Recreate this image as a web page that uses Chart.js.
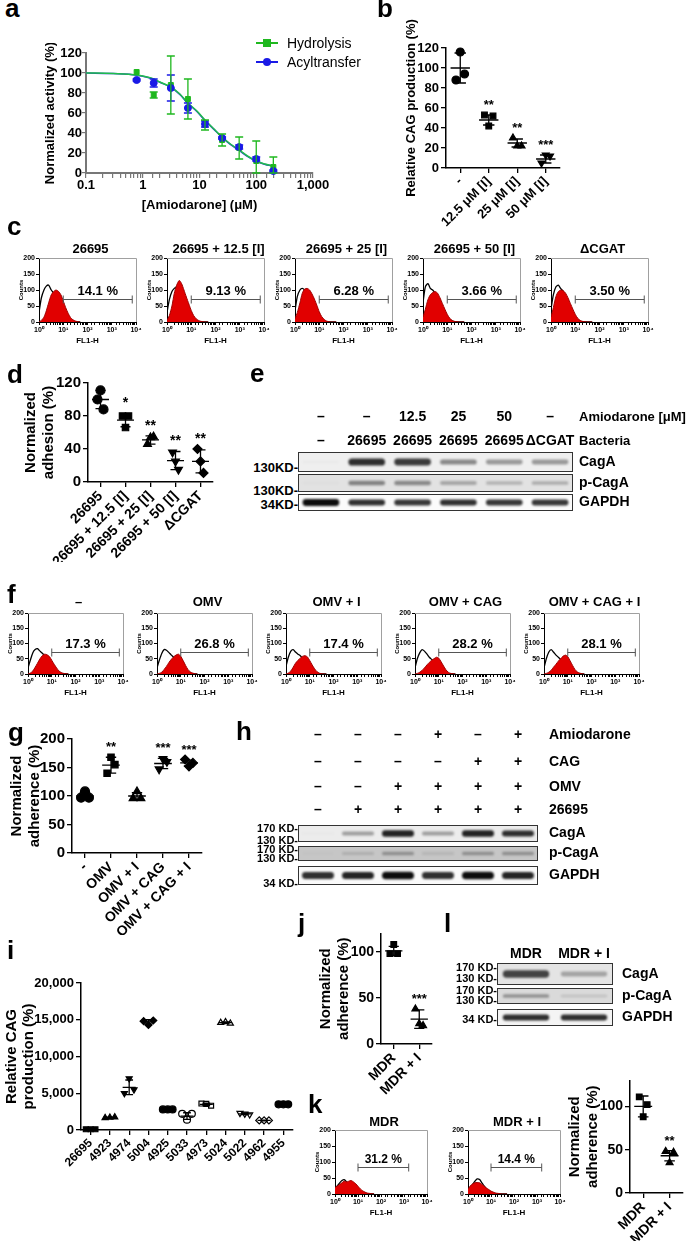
<!DOCTYPE html>
<html>
<head>
<meta charset="utf-8">
<title>Amiodarone / CAG figure</title>
<script src="https://cdn.jsdelivr.net/npm/chart.js@4.4.1/dist/chart.umd.min.js"></script>
<style>
  body { margin: 0; background: #fff; }
  #fig { position: relative; width: 688px; height: 1241px; overflow: hidden; background: #fff;
         font-family: "Liberation Sans", Arial, sans-serif; font-weight: bold; color: #000; }
  #fig canvas { position: absolute; }
  .lab { position: absolute; white-space: nowrap; line-height: 1; }
</style>
</head>
<body>
<div id="fig"></div>
<script>
// ---------------- data ----------------
// a: normalized activity vs amiodarone dose
const aDoses = [0.78, 1.56, 3.125, 6.25, 12.5, 25, 50, 100, 200];
const aHydro = [101, 78, 88, 74, 48, 33, 25, 12, 6];
const aHydroErr = [0, 3, 29, 20, 5, 6, 11, 20, 10];
const aAcyl = [93, 90, 85, 65, 49, 35, 26, 14, 2];
const aAcylErr = [1, 4, 13, 5, 3, 1, 2, 2, 1];
const aFitDoses = [0.1, 0.3, 0.78, 1.56, 2, 3.125, 4.5, 6.25, 9, 12.5, 18, 25, 35, 50, 70, 100, 140, 200];
const aFitHydro = [100, 99.5, 98, 94, 91, 86, 79, 70, 62, 53, 44, 36, 29, 23, 17, 12, 9, 7];
const aFitAcyl = [100, 99.4, 97.8, 93.8, 90.8, 85.6, 78.6, 69.6, 61.5, 52.6, 43.6, 35.6, 28.6, 22.6, 16.6, 11.8, 8.8, 6.8];
const aYTicks = [0, 20, 40, 60, 80, 100, 120];

// b: relative CAG production
const bCats = ['-', '12.5 μM [I]', '25 μM [I]', '50 μM [I]'];
const bPoints = [[88, 94, 116], [53, 52, 42], [30, 22, 22], [5, 12, 13]];
const bMean = [100, 48, 25, 9];
const bSd = [15, 5, 4, 4];
const bStars = ['', '**', '**', '***'];
const bTicks = [0, 20, 40, 60, 80, 100, 120];

// flow cytometry histograms (FL1-H channel grid shared by all panels)
const flowX = [1, 1.25, 1.6, 2, 2.5, 3.2, 4, 5, 6.3, 8, 10, 12.6, 16, 20, 25, 32, 40, 50];
const flowTicks = [0, 50, 100, 150, 200];

// c
const cTitles = ['26695', '26695 + 12.5 [I]', '26695 + 25 [I]', '26695 + 50 [I]', 'ΔCGAT'];
const cPct = ['14.1 %', '9.13 %', '6.28 %', '3.66 %', '3.50 %'];
const cControl = [
  [30, 75, 100, 112, 115, 100, 90, 72, 55, 38, 24, 14, 7, 3, 1, 0, 0, 0],
  [30, 70, 95, 105, 110, 100, 85, 65, 47, 30, 18, 9, 4, 1, 0, 0, 0, 0],
  [35, 80, 100, 105, 100, 90, 75, 58, 42, 27, 15, 7, 3, 1, 0, 0, 0, 0],
  [60, 110, 120, 105, 100, 90, 80, 65, 47, 30, 17, 8, 3, 1, 0, 0, 0, 0],
  [40, 85, 110, 115, 105, 95, 80, 62, 43, 27, 15, 7, 2, 1, 0, 0, 0, 0]
];
const cStained = [
  [0, 5, 15, 35, 60, 85, 95, 100, 96, 85, 66, 45, 27, 14, 7, 3, 1, 0],
  [5, 20, 50, 90, 115, 130, 120, 100, 78, 56, 36, 20, 10, 5, 2, 1, 0, 0],
  [10, 30, 60, 90, 103, 105, 100, 88, 72, 52, 32, 17, 8, 3, 1, 0, 0, 0],
  [15, 40, 70, 85, 92, 95, 90, 76, 58, 40, 24, 12, 5, 2, 1, 0, 0, 0],
  [15, 45, 80, 95, 100, 98, 90, 76, 58, 40, 24, 12, 5, 2, 1, 0, 0, 0]
];
const cGate = [10, 7000, 72];

// d: normalized adhesion
const dCats = ['26695', '26695 + 12.5 [I]', '26695 + 25 [I]', '26695 + 50 [I]', 'ΔCGAT'];
const dPoints = [[100, 88, 111], [80, 80, 66], [46, 55, 54], [36, 15, 25], [40, 11, 25]];
const dMean = [100, 75, 51, 26, 25];
const dSd = [11, 8, 5, 11, 14];
const dStars = ['', '*', '**', '**', '**'];
const dTicks = [0, 20, 40, 60, 80, 100, 120];

// e: western blot
const eAmio = ['–', '–', '12.5', '25', '50', '–'];
const eBact = ['–', '26695', '26695', '26695', '26695', 'ΔCGAT'];
const eCagA = [0.02, 0.85, 0.8, 0.45, 0.38, 0.38];
const ePCagA = [0.02, 0.45, 0.42, 0.28, 0.22, 0.25];
const eGapdh = [1.0, 0.85, 0.82, 0.85, 0.82, 0.82];

// f
const fTitles = ['–', 'OMV', 'OMV + I', 'OMV + CAG', 'OMV + CAG + I'];
const fPct = ['17.3 %', '26.8 %', '17.4 %', '28.2 %', '28.1 %'];
const fControl = [
  [20, 45, 70, 80, 83, 75, 68, 60, 48, 36, 25, 15, 8, 4, 1, 0, 0, 0],
  [20, 45, 68, 80, 78, 70, 62, 55, 46, 37, 27, 17, 9, 4, 1, 0, 0, 0],
  [25, 55, 75, 80, 72, 65, 60, 52, 43, 33, 22, 12, 6, 2, 1, 0, 0, 0],
  [20, 50, 70, 80, 75, 65, 55, 48, 41, 33, 25, 16, 8, 3, 1, 0, 0, 0],
  [20, 50, 72, 80, 72, 62, 55, 48, 41, 33, 25, 16, 8, 3, 1, 0, 0, 0]
];
const fStained = [
  [0, 3, 10, 22, 35, 50, 60, 65, 63, 57, 45, 32, 20, 10, 5, 2, 1, 0],
  [0, 2, 6, 15, 25, 38, 48, 56, 62, 65, 58, 44, 28, 15, 7, 3, 1, 0],
  [0, 3, 10, 22, 35, 45, 52, 58, 60, 56, 44, 30, 17, 8, 3, 1, 0, 0],
  [0, 2, 6, 12, 20, 30, 38, 45, 50, 55, 52, 40, 26, 14, 6, 2, 1, 0],
  [0, 2, 6, 12, 22, 32, 42, 50, 58, 62, 57, 43, 28, 15, 7, 3, 1, 0]
];
const fGate = [10, 7000, 73];

// g: normalized adherence
const gCats = ['-', 'OMV', 'OMV + I', 'OMV + CAG', 'OMV + CAG + I'];
const gPoints = [[97, 97, 108], [140, 155, 168], [96, 96, 108], [147, 160, 165], [164, 158, 152]];
const gMean = [100, 154, 100, 157, 158];
const gSd = [6, 14, 6, 9, 5];
const gStars = ['', '**', '', '***', '***'];
const gTicks = [0, 50, 100, 150, 200];

// h: western blot
const hAmio = ['–', '–', '–', '+', '–', '+'];
const hCag = ['–', '–', '–', '–', '+', '+'];
const hOmv = ['–', '–', '+', '+', '+', '+'];
const h26695 = ['–', '+', '+', '+', '+', '+'];
const hCagA = [0.02, 0.35, 0.9, 0.35, 0.9, 0.85];
const hPCagA = [0.02, 0.15, 0.3, 0.1, 0.3, 0.3];
const hGapdh = [0.85, 0.9, 1.0, 0.85, 1.0, 0.9];

// i: relative CAG production across strains
const iCats = ['26695', '4923', '4974', '5004', '4925', '5033', '4973', '5024', '5022', '4962', '4955'];
const iPoints = [[100, 100, 100], [1650, 1750, 1700], [5000, 5500, 7000], [14800, 14900, 14300],
  [2800, 2800, 2800], [2200, 2200, 1400], [3600, 3300, 3550], [14600, 14500, 14700],
  [2300, 2100, 2200], [1300, 1300, 1300], [3500, 3500, 3500]];
const iMean = [100, 1700, 5800, 14700, 2800, 1900, 3500, 14600, 2200, 1300, 3500];
const iSd = [30, 60, 1000, 300, 60, 450, 170, 100, 120, 40, 40];
const iTicks = [0, 5000, 10000, 15000, 20000];

// j
const jCats = ['MDR', 'MDR + I'];
const jPoints = [[98, 98, 108], [38, 20, 22]];
const jMean = [101, 27];
const jSd = [5, 10];
const jStars = ['', '***'];
const jTicks = [0, 50, 100];

// k
const kTitles = ['MDR', 'MDR + I'];
const kPct = ['31.2 %', '14.4 %'];
const kControl = [
  [15, 25, 35, 42, 45, 38, 30, 28, 22, 16, 10, 6, 3, 1, 0, 0, 0, 0],
  [10, 20, 30, 40, 47, 45, 35, 25, 16, 10, 5, 3, 1, 0, 0, 0, 0, 0]
];
const kStained = [
  [20, 25, 30, 35, 40, 38, 40, 42, 38, 32, 24, 16, 10, 6, 3, 2, 1, 0],
  [15, 25, 32, 35, 36, 35, 30, 25, 19, 14, 9, 6, 3, 2, 1, 0, 0, 0]
];
const kGate = [10, 1600, 85];
const kCats = ['MDR', 'MDR + I'];
const kPoints = [[111, 102, 88], [48, 47, 35]];
const kMean = [100, 43];
const kSd = [12, 6];
const kStars = ['', '**'];
const kTicks = [0, 50, 100];

// l: western blot
const lLanes = ['MDR', 'MDR + I'];
const lCagA = [0.75, 0.3];
const lPCagA = [0.35, 0.12];
const lGapdh = [0.85, 0.85];

// ---------------- helpers ----------------
const FONT = '"Liberation Sans", Arial, sans-serif';
Chart.defaults.font.family = FONT;
Chart.defaults.font.weight = 'bold';
Chart.defaults.color = '#000';
Chart.defaults.animation = false;
Chart.defaults.responsive = false;
Chart.defaults.devicePixelRatio = 1;
Chart.defaults.events = [];
Chart.defaults.plugins.legend.display = false;
Chart.defaults.plugins.tooltip.enabled = false;

const fig = document.getElementById('fig');

// box = plot area [x0, y0, x1, y1] in page px; m = [left, top, right, bottom] room around it
function canvasAt(box, m) {
  const c = document.createElement('canvas');
  const w = box[2] - box[0] + m[0] + m[2];
  const h = box[3] - box[1] + m[1] + m[3];
  c.width = w; c.height = h;
  c.style.left = (box[0] - m[0]) + 'px';
  c.style.top = (box[1] - m[1]) + 'px';
  c.style.width = w + 'px';
  c.style.height = h + 'px';
  fig.appendChild(c);
  return c;
}

// y is the vertical centre of the text
function label(str, x, y, size, extra) {
  const d = document.createElement('div');
  d.className = 'lab';
  d.textContent = str;
  d.style.fontSize = size + 'px';
  d.style.top = (y - size * 0.5) + 'px';
  if (extra && extra.right !== undefined) d.style.right = (688 - extra.right) + 'px';
  else d.style.left = x + 'px';
  fig.appendChild(d);
}

function letter(ch, x, baseline) {
  label(ch, x, baseline - 22 + 13, 26);
}

const isPow10 = v => { const l = Math.log10(v); return Math.abs(l - Math.round(l)) < 1e-6; };
const SUP = ['⁰', '¹', '²', '³', '⁴'];

// mean line, SD whiskers and significance stars
function statsPlugin(o) {
  return {
    id: 'stats',
    afterDatasetsDraw(chart) {
      const { ctx, scales: { x, y } } = chart;
      const unit = x.getPixelForValue(1) - x.getPixelForValue(0);
      ctx.save();
      ctx.strokeStyle = '#000';
      ctx.lineWidth = 1.3;
      o.mean.forEach((mv, i) => {
        const cx = x.getPixelForValue(i);
        const ym = y.getPixelForValue(mv);
        const yt = y.getPixelForValue(mv + o.sd[i]);
        const yb = y.getPixelForValue(Math.max(0, mv - o.sd[i]));
        ctx.beginPath();
        ctx.moveTo(cx - unit * 0.34, ym); ctx.lineTo(cx + unit * 0.34, ym);
        ctx.moveTo(cx, yt); ctx.lineTo(cx, yb);
        ctx.moveTo(cx - unit * 0.2, yt); ctx.lineTo(cx + unit * 0.2, yt);
        ctx.moveTo(cx - unit * 0.2, yb); ctx.lineTo(cx + unit * 0.2, yb);
        ctx.stroke();
        if (o.stars && o.stars[i]) {
          const top = Math.max(mv + o.sd[i], ...o.points[i]);
          ctx.fillStyle = '#000';
          ctx.font = 'bold ' + (o.starFont || 13) + 'px ' + FONT;
          ctx.textAlign = 'center';
          ctx.textBaseline = 'bottom';
          ctx.fillText(o.stars[i], cx, y.getPixelForValue(top) - 3);
        }
      });
      ctx.restore();
    }
  };
}

// scatter dot plot with categories on a linear x scale
function dotPlot(box, m, o) {
  const n = o.cats.length;
  const jitter = o.jitter || [-0.15, 0.15, 0];
  return new Chart(canvasAt(box, m), {
    type: 'scatter',
    data: {
      datasets: o.points.map((vals, i) => ({
        data: vals.map((v, k) => ({ x: i + jitter[k], y: v })),
        pointStyle: o.styles[i][0],
        rotation: o.styles[i][1],
        pointRadius: o.radius,
        backgroundColor: o.styles[i][2] ? '#000' : '#fff',
        borderColor: '#000',
        borderWidth: 1.2,
        clip: false
      }))
    },
    options: {
      layout: { padding: { left: 0, top: m[1], right: m[2], bottom: 0 } },
      scales: {
        x: {
          type: 'linear', min: -0.5, max: n - 0.5,
          afterBuildTicks: s => { s.ticks = o.cats.map((c, i) => ({ value: i })); },
          afterFit: s => { s.height = m[3]; },
          ticks: { autoSkip: false, minRotation: 45, maxRotation: 45, padding: 1,
                   callback: v => o.cats[v], font: { size: o.catFont } },
          grid: { drawOnChartArea: false, tickLength: 5, color: '#000', lineWidth: 1.3 },
          border: { color: '#000', width: 1.5 }
        },
        y: {
          min: 0, max: o.yMax,
          afterBuildTicks: s => { s.ticks = o.yTicks.map(v => ({ value: v })); },
          afterFit: s => { s.width = m[0]; },
          ticks: { padding: 2, font: { size: o.tickFont },
                   callback: v => o.comma ? v.toLocaleString('en-US') : String(v) },
          grid: { drawOnChartArea: false, tickLength: 5, color: '#000', lineWidth: 1.3 },
          border: { color: '#000', width: 1.5 },
          title: { display: true, text: o.title, font: { size: o.titleFont, lineHeight: o.titleLH || 1.2 },
                   padding: { top: 0, bottom: 0 } }
        }
      }
    },
    plugins: [statsPlugin(o)]
  });
}

// frame, gate and title of a flow histogram
function flowDecor(o) {
  return {
    id: 'flowDecor',
    afterDraw(chart) {
      const { ctx, chartArea: a, scales: { x, y } } = chart;
      ctx.save();
      ctx.strokeStyle = '#a0a0a0';
      ctx.lineWidth = 1;
      ctx.beginPath();
      ctx.moveTo(a.left, a.top + 0.5); ctx.lineTo(a.right + 0.5, a.top + 0.5); ctx.lineTo(a.right + 0.5, a.bottom);
      ctx.stroke();
      const gx0 = x.getPixelForValue(o.gate[0]);
      const gx1 = x.getPixelForValue(o.gate[1]);
      const gy = Math.round(y.getPixelForValue(o.gate[2])) + 0.5;
      ctx.strokeStyle = '#555';
      ctx.beginPath();
      ctx.moveTo(gx0, gy); ctx.lineTo(gx1, gy);
      ctx.moveTo(gx0, gy - 4); ctx.lineTo(gx0, gy + 4);
      ctx.moveTo(gx1, gy - 4); ctx.lineTo(gx1, gy + 4);
      ctx.stroke();
      ctx.fillStyle = '#000';
      ctx.textAlign = 'center';
      ctx.font = 'bold ' + o.pctFont + 'px ' + FONT;
      ctx.textBaseline = 'bottom';
      ctx.fillText(o.pct, (gx0 + gx1) / 2, gy - 2);
      ctx.font = 'bold 13px ' + FONT;
      ctx.textBaseline = 'middle';
      ctx.fillText(o.title, (a.left + a.right) / 2 + 3, a.top - o.titleGap);
      ctx.restore();
    }
  };
}

function flowPlot(box, o) {
  const m = [25, 22, 8, 24];
  return new Chart(canvasAt(box, m), {
    type: 'line',
    data: {
      datasets: [
        { data: flowX.map((x, k) => ({ x, y: o.stained[k] })), fill: 'origin',
          backgroundColor: '#e10000', borderColor: '#a00000', borderWidth: 1, pointRadius: 0, tension: 0.25 },
        { data: flowX.map((x, k) => ({ x, y: o.control[k] })), fill: false,
          borderColor: '#000', borderWidth: 1.3, pointRadius: 0, tension: 0.25 }
      ]
    },
    options: {
      layout: { padding: { left: 0, top: m[1], right: m[2], bottom: 0 } },
      scales: {
        x: {
          type: 'logarithmic', min: 1, max: 10000,
          afterFit: s => { s.height = m[3]; },
          ticks: { autoSkip: false, maxRotation: 0, padding: 1, font: { size: 7 },
                   callback: v => isPow10(v) ? '10' + SUP[Math.round(Math.log10(v))] : '' },
          grid: { drawOnChartArea: false, tickLength: 3, color: '#000' },
          border: { color: '#000', width: 1 },
          title: { display: true, text: 'FL1-H', font: { size: 8 }, padding: 0 }
        },
        y: {
          min: 0, max: 200,
          afterBuildTicks: s => { s.ticks = flowTicks.map(v => ({ value: v })); },
          afterFit: s => { s.width = m[0]; },
          ticks: { padding: 1, font: { size: 7 } },
          grid: { drawOnChartArea: false, tickLength: 3, color: '#000' },
          border: { color: '#000', width: 1 },
          title: { display: true, text: 'Counts', font: { size: 6 }, padding: { top: 4, bottom: 0 } }
        }
      }
    },
    plugins: [flowDecor(o)]
  });
}

// one strip of a western blot; band thickness and darkness follow the intensity
function blotDecor(o) {
  return {
    id: 'blotDecor',
    beforeDatasetsDraw(chart) {
      const { ctx, chartArea: a } = chart;
      ctx.save();
      ctx.fillStyle = o.bg;
      ctx.fillRect(a.left, a.top, a.right - a.left, a.bottom - a.top);
      ctx.restore();
      ctx.save();
      ctx.filter = 'blur(1px)';
    },
    afterDatasetsDraw(chart) {
      const { ctx, chartArea: a, scales: { x } } = chart;
      ctx.restore();
      ctx.save();
      ctx.strokeStyle = '#333';
      ctx.lineWidth = 1;
      ctx.strokeRect(a.left + 0.5, a.top + 0.5, a.right - a.left - 1, a.bottom - a.top - 1);
      ctx.fillStyle = '#000';
      ctx.font = 'bold 14px ' + FONT;
      ctx.textBaseline = 'middle';
      ctx.textAlign = 'left';
      ctx.fillText(o.name, a.right + o.gap, (a.top + a.bottom) / 2);
      if (o.header) {
        o.header.rows.forEach((row, r) => {
          const yy = a.top + o.header.dy[r];
          ctx.font = 'bold 14px ' + FONT;
          ctx.textAlign = 'center';
          row.forEach((t, i) => ctx.fillText(t, x.getPixelForValue(i), yy));
          ctx.textAlign = 'left';
          ctx.font = 'bold ' + (o.header.labelFont || 14) + 'px ' + FONT;
          ctx.fillText(o.header.labels[r], a.right + o.gap, yy);
        });
      }
      ctx.restore();
    }
  };
}

function blotStrip(box, rightW, o) {
  const headTop = o.header ? o.header.top : 0;
  const m = [0, headTop, rightW, 0];
  return new Chart(canvasAt(box, m), {
    type: 'bar',
    data: {
      labels: o.values.map((v, i) => 'lane ' + (i + 1)),
      datasets: [{
        data: o.values.map(v => [0.5 - 0.07 - 0.13 * v, 0.5 + 0.07 + 0.13 * v]),
        backgroundColor: o.values.map(v => 'rgba(12,12,12,' + v + ')'),
        barPercentage: 0.8, categoryPercentage: 1, borderRadius: 4, borderSkipped: false
      }]
    },
    options: {
      layout: { padding: { left: 0, top: headTop, right: rightW, bottom: 0 } },
      scales: { x: { display: false }, y: { display: false, min: 0, max: 1 } }
    },
    plugins: [blotDecor(o)]
  });
}

// ---------------- panel a ----------------
const aBox = [86, 53, 313, 173], aM = [47, 10, 22, 42];
const aErrPlugin = {
  id: 'errBars',
  afterDatasetsDraw(chart) {
    const { ctx, scales: { y } } = chart;
    ctx.save();
    chart.data.datasets.forEach((ds, di) => {
      if (!ds.err) return;
      const meta = chart.getDatasetMeta(di);
      ctx.strokeStyle = ds.borderColor;
      ctx.lineWidth = 1.3;
      meta.data.forEach((pt, k) => {
        const v = ds.data[k].y, e = ds.err[k];
        if (!e) return;
        const yt = y.getPixelForValue(v + e), yb = y.getPixelForValue(Math.max(0, v - e));
        ctx.beginPath();
        ctx.moveTo(pt.x, yt); ctx.lineTo(pt.x, yb);
        ctx.moveTo(pt.x - 4, yt); ctx.lineTo(pt.x + 4, yt);
        ctx.moveTo(pt.x - 4, yb); ctx.lineTo(pt.x + 4, yb);
        ctx.stroke();
      });
    });
    ctx.restore();
  }
};
// dataset 0 is drawn on top
new Chart(canvasAt(aBox, aM), {
  type: 'scatter',
  data: {
    datasets: [
      { data: aDoses.map((x, k) => ({ x, y: aAcyl[k] })), pointStyle: 'circle', pointRadius: 3.5,
        backgroundColor: '#1a1ae6', borderColor: '#1a1ae6', err: aAcylErr, clip: false },
      { data: aDoses.map((x, k) => ({ x, y: aHydro[k] })), pointStyle: 'rect', pointRadius: 3.5,
        backgroundColor: '#1fb81f', borderColor: '#1fb81f', err: aHydroErr, clip: false },
      { data: aFitDoses.map((x, k) => ({ x, y: aFitHydro[k] })), showLine: true, borderColor: '#1fbf4a',
        borderWidth: 1.5, pointRadius: 0, cubicInterpolationMode: 'monotone' },
      { data: aFitDoses.map((x, k) => ({ x, y: aFitAcyl[k] })), showLine: true, borderColor: '#2a2ae0',
        borderWidth: 1.5, pointRadius: 0, cubicInterpolationMode: 'monotone' }
    ]
  },
  options: {
    layout: { padding: { left: 0, top: aM[1], right: aM[2], bottom: 0 } },
    scales: {
      x: {
        type: 'logarithmic', min: 0.1, max: 1000,
        afterFit: s => { s.height = aM[3]; },
        ticks: { autoSkip: false, maxRotation: 0, padding: 0, font: { size: 13 },
                 callback: v => !isPow10(v) ? '' : (v < 1 ? '0.1' : Math.round(v).toLocaleString('en-US')) },
        grid: { drawOnChartArea: false, tickLength: 5, color: '#777', lineWidth: 1.2 },
        border: { color: '#777', width: 2 },
        title: { display: true, text: '[Amiodarone] (μM)', font: { size: 13 }, padding: { top: 0, bottom: 2 } }
      },
      y: {
        min: 0, max: 120,
        afterBuildTicks: s => { s.ticks = aYTicks.map(v => ({ value: v })); },
        afterFit: s => { s.width = aM[0]; },
        ticks: { padding: 0, font: { size: 13 } },
        grid: { drawOnChartArea: false, tickLength: 4, color: '#777', lineWidth: 1.2 },
        border: { color: '#777', width: 2 },
        title: { display: true, text: 'Normalized activity (%)', font: { size: 13 }, padding: { top: 4, bottom: 0 } }
      }
    }
  },
  plugins: [aErrPlugin]
});

function legendRow(y, color, round, txt) {
  const row = document.createElement('div');
  row.className = 'lab';
  row.style.left = '256px';
  row.style.top = (y - 8) + 'px';
  row.style.fontSize = '14px';
  row.style.fontWeight = 'normal';
  row.style.lineHeight = '16px';
  row.innerHTML = '<span style="display:inline-block;position:relative;width:22px;height:16px;vertical-align:top;margin-right:9px">' +
    '<span style="position:absolute;left:0;right:0;top:7px;height:2px;background:' + color + '"></span>' +
    '<span style="position:absolute;left:7px;top:4px;width:8px;height:8px;background:' + color +
    ';border-radius:' + (round ? '50%' : '0') + '"></span></span>' + txt;
  fig.appendChild(row);
}
legendRow(43, '#1fb81f', false, 'Hydrolysis');
legendRow(62, '#1a1ae6', true, 'Acyltransfer');

// ---------------- panel b ----------------
dotPlot([446, 48, 560, 168], [42, 36, 10, 62], {
  cats: bCats, points: bPoints, mean: bMean, sd: bSd, stars: bStars, yMax: 120, yTicks: bTicks,
  styles: [['circle', 0, true], ['rect', 0, true], ['triangle', 0, true], ['triangle', 180, true]],
  radius: 4, tickFont: 13, catFont: 13, title: 'Relative CAG production (%)', titleFont: 13
});

// ---------------- panel c ----------------
cTitles.forEach((t, i) => {
  flowPlot([39 + 128 * i, 258, 136 + 128 * i, 322], {
    title: t, pct: cPct[i], control: cControl[i], stained: cStained[i], gate: cGate,
    pctFont: 13, titleGap: 9
  });
});

// ---------------- panel d ----------------
dotPlot([88, 382, 213, 482], [66, 10, 10, 80], {
  cats: dCats, points: dPoints, mean: dMean, sd: dSd, stars: dStars, yMax: 120, yTicks: dTicks,
  styles: [['circle', 0, true], ['rect', 0, true], ['triangle', 0, true], ['triangle', 180, true], ['rectRot', 0, true]],
  radius: 4.5, tickFont: 15, catFont: 14, title: ['Normalized', 'adhesion (%)'], titleFont: 15, starFont: 14,
  jitter: [-0.12, 0.12, 0]
});

// ---------------- panel e ----------------
blotStrip([298, 452, 573, 472], 115, { values: eCagA, bg: '#efefef', name: 'CagA', gap: 6,
  header: { rows: [eAmio, eBact], labels: ['Amiodarone [μM]', 'Bacteria'], dy: [-35, -11], top: 45, labelFont: 13 } });
blotStrip([298, 474, 573, 492], 115, { values: ePCagA, bg: '#e2e2e2', name: 'p-CagA', gap: 6 });
blotStrip([298, 494, 573, 511], 115, { values: eGapdh, bg: '#fbfbfb', name: 'GAPDH', gap: 6 });
label('130KD-', 0, 467, 13, { right: 298 });
label('130KD-', 0, 490, 13, { right: 298 });
label('34KD-', 0, 504, 13, { right: 298 });

// ---------------- panel f ----------------
fTitles.forEach((t, i) => {
  flowPlot([28 + 129 * i, 613, 123 + 129 * i, 674], {
    title: t, pct: fPct[i], control: fControl[i], stained: fStained[i], gate: fGate,
    pctFont: 13, titleGap: 11
  });
});

// ---------------- panel g ----------------
dotPlot([72, 738, 202, 853], [64, 10, 10, 82], {
  cats: gCats, points: gPoints, mean: gMean, sd: gSd, stars: gStars, yMax: 200, yTicks: gTicks,
  styles: [['circle', 0, true], ['rect', 0, true], ['triangle', 0, true], ['triangle', 180, true], ['rectRot', 0, true]],
  radius: 4.5, tickFont: 15, catFont: 14, title: ['Normalized', 'adherence (%)'], titleFont: 15
});

// ---------------- panel h ----------------
blotStrip([298, 825, 538, 842], 150, { values: hCagA, bg: '#ececec', name: 'CagA', gap: 11,
  header: { rows: [hAmio, hCag, hOmv, h26695], labels: ['Amiodarone', 'CAG', 'OMV', '26695'],
            dy: [-90, -63, -38, -15], top: 100 } });
blotStrip([298, 846, 538, 861], 150, { values: hPCagA, bg: '#c6c6c6', name: 'p-CagA', gap: 11 });
blotStrip([298, 866, 538, 885], 150, { values: hGapdh, bg: '#fafafa', name: 'GAPDH', gap: 11 });
label('170 KD-', 0, 828, 11, { right: 298 });
label('130 KD-', 0, 840, 11, { right: 298 });
label('170 KD-', 0, 849, 11, { right: 298 });
label('130 KD-', 0, 858, 11, { right: 298 });
label('34 KD-', 0, 883, 11, { right: 298 });

// ---------------- panel i ----------------
dotPlot([81, 983, 293, 1130], [78, 10, 8, 40], {
  cats: iCats, points: iPoints, mean: iMean, sd: iSd, yMax: 20000, yTicks: iTicks, comma: true,
  styles: [['rect', 0, true], ['triangle', 0, true], ['triangle', 180, true], ['rectRot', 0, true], ['circle', 0, true],
           ['circle', 0, false], ['rect', 0, false], ['triangle', 0, false], ['triangle', 180, false], ['rectRot', 0, false],
           ['circle', 0, true]],
  radius: 3.5, tickFont: 13, catFont: 12, title: ['Relative CAG', 'production (%)'], titleFont: 15, titleLH: 1.15,
  jitter: [-0.25, 0.25, 0]
});

// ---------------- panel j ----------------
dotPlot([381, 931, 432, 1044], [64, 8, 10, 52], {
  cats: jCats, points: jPoints, mean: jMean, sd: jSd, stars: jStars, yMax: 120, yTicks: jTicks,
  styles: [['rect', 0, true], ['triangle', 0, true]],
  radius: 4, tickFont: 14, catFont: 14, title: ['Normalized', 'adherence (%)'], titleFont: 15
});

// ---------------- panel k ----------------
kTitles.forEach((t, i) => {
  flowPlot([335 + 133 * i, 1130, 427 + 133 * i, 1194], {
    title: t, pct: kPct[i], control: kControl[i], stained: kStained[i], gate: kGate,
    pctFont: 12, titleGap: 8
  });
});
dotPlot([630, 1078, 684, 1193], [64, 8, 4, 48], {
  cats: kCats, points: kPoints, mean: kMean, sd: kSd, stars: kStars, yMax: 130, yTicks: kTicks,
  styles: [['rect', 0, true], ['triangle', 0, true]],
  radius: 4, tickFont: 14, catFont: 14, title: ['Normalized', 'adherence (%)'], titleFont: 15
});

// ---------------- panel l ----------------
blotStrip([497, 963, 613, 985], 75, { values: lCagA, bg: '#e4e4e4', name: 'CagA', gap: 9,
  header: { rows: [lLanes], labels: [''], dy: [-9], top: 18 } });
blotStrip([497, 988, 613, 1004], 75, { values: lPCagA, bg: '#dadada', name: 'p-CagA', gap: 9 });
blotStrip([497, 1009, 613, 1026], 75, { values: lGapdh, bg: '#f4f4f4', name: 'GAPDH', gap: 9 });
label('170 KD-', 0, 967, 11, { right: 497 });
label('130 KD-', 0, 978, 11, { right: 497 });
label('170 KD-', 0, 990, 11, { right: 497 });
label('130 KD-', 0, 1000, 11, { right: 497 });
label('34 KD-', 0, 1019, 11, { right: 497 });

// ---------------- panel letters ----------------
letter('a', 5, 17);
letter('b', 377, 17);
letter('c', 7, 235);
letter('d', 7, 383);
letter('e', 250, 382);
letter('f', 7, 603);
letter('g', 8, 741);
letter('h', 236, 740);
letter('i', 7, 959);
letter('j', 298, 932);
letter('k', 308, 1113);
letter('l', 444, 932);
</script>
</body>
</html>
